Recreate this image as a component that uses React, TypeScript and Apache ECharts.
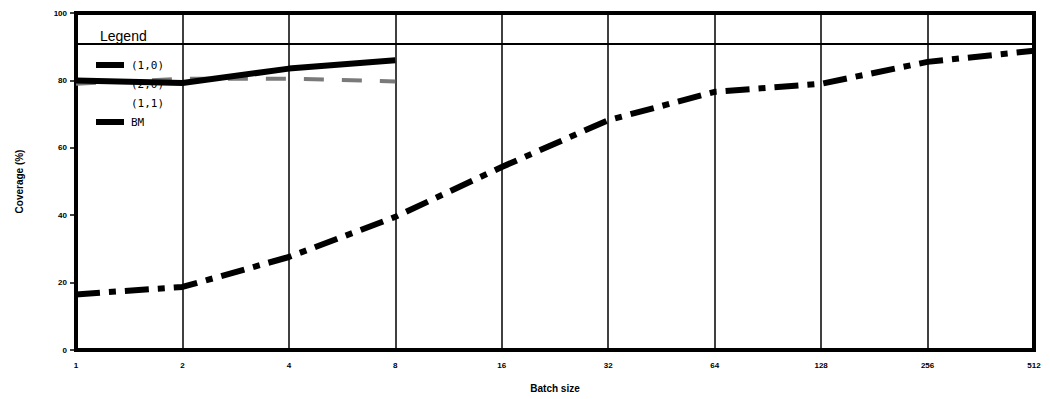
import React, { useEffect, useRef } from "react";
import * as echarts from "echarts";

const batchSizes = ["1", "2", "4", "8", "16", "32", "64", "128", "256", "512"];
const yTicks = [0, 20, 40, 60, 80, 100];
const seriesNames = ["(1,0)", "(2,0)", "(1,1)", "BM"];
const series10 = [80, 79.2, 83.5, 86];
const series20 = [79, 80.5, 80.5, 79.7];
const series11: number[] = [];
const seriesBM = [16.5, 18.7, 27.6, 39.5, 54.3, 68.2, 76.6, 79, 85.5, 88.8];
const legendLineValue = 91;

export default function App() {
  const ref = useRef<HTMLDivElement>(null);
  useEffect(() => {
    if (!ref.current) return;
    const chart = echarts.init(ref.current, null, { renderer: "svg" });
    const labelFont = { fontFamily: "Liberation Sans", fontWeight: "bold" as const, fontSize: 8, color: "#000" };
    const rowY = [65, 84, 103, 122];
    const swatch = [true, false, false, true];
    const legendGraphics: any[] = [
      { type: "text", left: 100, top: 29, style: { text: "Legend", font: "14px 'Liberation Sans'", fill: "#000" } },
    ];
    seriesNames.forEach((n, i) => {
      legendGraphics.push({
        type: "text",
        x: 131,
        y: rowY[i],
        style: { text: n, font: "11px 'DejaVu Sans Mono'", fill: "#000", verticalAlign: "middle" },
        z: 100,
      });
      if (swatch[i]) {
        legendGraphics.push({
          type: "rect",
          shape: { x: 96, y: rowY[i] - 3, width: 28, height: 6 },
          style: { fill: "#000" },
          z: 100,
        });
      }
    });
    chart.setOption({
      animation: false,
      backgroundColor: "#fff",
      grid: { left: 76, right: 16, top: 13, bottom: 49, show: true, borderColor: "#000", borderWidth: 4, backgroundColor: "transparent" },
      graphic: legendGraphics,
      xAxis: {
        type: "category",
        data: batchSizes,
        boundaryGap: false,
        name: "Batch size",
        nameLocation: "middle",
        nameGap: 33,
        nameTextStyle: { ...labelFont, fontSize: 10 },
        axisLine: { show: true, lineStyle: { color: "#000", width: 4 } },
        axisTick: { show: false },
        axisLabel: { ...labelFont, margin: 11 },
        splitLine: { show: true, lineStyle: { color: "#000", width: 1.5 } },
      },
      yAxis: {
        type: "value",
        min: 0,
        max: 100,
        interval: 20,
        name: "Coverage (%)",
        nameLocation: "middle",
        nameGap: 52,
        nameTextStyle: { ...labelFont, fontSize: 10 },
        axisLine: { show: true, lineStyle: { color: "#000", width: 4 } },
        axisTick: { show: true, inside: false, length: 6, lineStyle: { color: "#000", width: 1.5 } },
        axisLabel: { ...labelFont, margin: 9, formatter: (v: number) => (yTicks.includes(v) ? String(v) : "") },
        splitLine: { show: false },
      },
      series: [
        {
          name: seriesNames[0],
          type: "line",
          data: series10,
          symbol: "none",
          lineStyle: { color: "#000", width: 6 },
          z: 3,
        },
        {
          name: seriesNames[1],
          type: "line",
          data: series20,
          symbol: "none",
          lineStyle: { color: "#7a7a7a", width: 4, type: [20, 18] },
          z: 2,
        },
        {
          name: seriesNames[2],
          type: "line",
          data: series11,
          symbol: "none",
          lineStyle: { color: "#000", width: 3 },
        },
        {
          name: seriesNames[3],
          type: "line",
          data: seriesBM,
          symbol: "none",
          lineStyle: { color: "#000", width: 6, type: [24, 9, 7, 9], cap: "butt" },
          markLine: {
            silent: true,
            symbol: "none",
            label: { show: false },
            lineStyle: { color: "#000", width: 2, type: "solid" },
            data: [{ yAxis: legendLineValue }],
          },
          z: 4,
        },
      ],
    });
    return () => chart.dispose();
  }, []);
  return <div ref={ref} style={{ position: "absolute", left: 0, top: 0, width: 1050, height: 399 }} />;
}
